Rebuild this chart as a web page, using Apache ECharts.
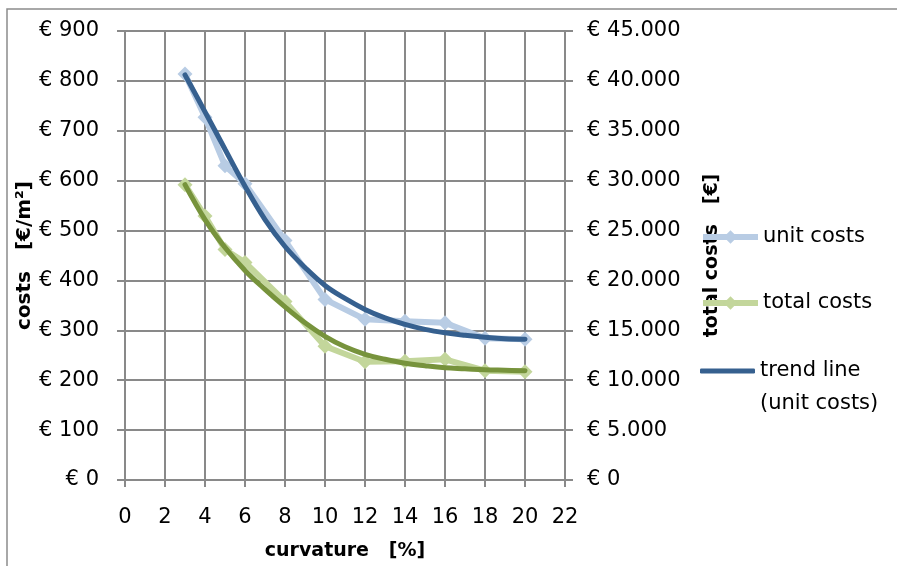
<!DOCTYPE html>
<html>
<head>
<meta charset="utf-8">
<script src="https://cdn.jsdelivr.net/npm/echarts@6/dist/echarts.min.js"></script>
<style>
  html, body { margin: 0; padding: 0; background: #fff; }
  #chart { width: 897px; height: 566px; }
</style>
</head>
<body>
<div id="chart"></div>
<script>
// Measured points: curvature [%] against unit costs [€/m²] and total costs [€]
const curvature = [3, 4, 5, 6, 8, 10, 12, 14, 16, 18, 20];
const unitCosts = [814, 727, 630, 594, 480, 362, 322, 318, 315, 284, 282];
const totalCosts = [29600, 26450, 23100, 21800, 17900, 13400, 11850, 11900, 12100, 10950, 10850];

// Fitted trend curves, sampled at each whole percent
const trendCurvature = [3, 4, 5, 6, 7, 8, 9, 10, 11, 12, 13, 14, 15, 16, 17, 18, 19, 20];
const unitTrend = [812, 738, 663, 589, 522, 468, 426, 390, 364, 342, 325, 312, 302, 295, 290, 286, 283, 282];
const totalTrend = [29600, 26100, 23300, 21000, 19100, 17350, 15750, 14400, 13350, 12600, 12100, 11700, 11450, 11250, 11150, 11050, 11000, 10950];

// Axis tick labels
const xTickLabels = ['0', '2', '4', '6', '8', '10', '12', '14', '16', '18', '20', '22'];
const leftTickLabels = ['€ 0', '€ 100', '€ 200', '€ 300', '€ 400', '€ 500', '€ 600', '€ 700', '€ 800', '€ 900'];
const rightTickLabels = ['€ 0', '€ 5.000', '€ 10.000', '€ 15.000', '€ 20.000', '€ 25.000', '€ 30.000', '€ 35.000', '€ 40.000', '€ 45.000'];

const names = {
  unit: 'unit costs',
  total: 'total costs',
  unitTrend: 'trend line\n(unit costs)',
  totalTrend: 'trend line (total costs)'
};

const FONT = 'DejaVu Sans';
const GRID_COLOR = '#898989';
const LIGHT_BLUE = '#B8CCE4';
const LIGHT_GREEN = '#C3D69B';
const DARK_BLUE = '#36608F';
const DARK_GREEN = '#77933C';
const pair = (xs, ys) => xs.map((x, i) => [x, ys[i]]);

const labelStyle = { color: '#000', fontSize: 21, fontFamily: FONT };
const titleStyle = { color: '#000', fontSize: 19, fontWeight: 'bold', fontFamily: FONT };
const gridLine = { lineStyle: { color: GRID_COLOR, width: 2 } };

const legendBase = {
  orient: 'vertical',
  left: 700,
  padding: 0,
  itemWidth: 55,
  itemHeight: 17,
  itemGap: 5,
  lineStyle: { width: 6 },
  textStyle: { color: '#000', fontSize: 21, fontFamily: FONT, lineHeight: 33 }
};

const chart = echarts.init(document.getElementById('chart'), null, { renderer: 'canvas' });
chart.setOption({
  animation: false,
  backgroundColor: '#fff',
  graphic: [{
    type: 'rect',
    z: -10,
    shape: { x: 7, y: 9, width: 900, height: 600 },
    style: { fill: 'none', stroke: '#8c8c8c', lineWidth: 1.5 }
  }],
  grid: { left: 125, right: 332, top: 31, bottom: 85 },
  legend: [
    Object.assign({}, legendBase, { top: 220.5, data: [names.unit] }),
    Object.assign({}, legendBase, { top: 286.5, data: [names.total] }),
    Object.assign({}, legendBase, {
      top: 321.5,
      itemHeight: 5,
      // leading blank line keeps the first text line level with the icon
      formatter: name => ' \n' + name,
      data: [{
        name: names.unitTrend,
        icon: 'roundRect',
        itemStyle: { color: DARK_BLUE }
      }]
    })
  ],
  xAxis: {
    type: 'value',
    min: 0, max: 22, interval: 2,
    name: 'curvature   [%]',
    nameLocation: 'middle',
    nameGap: 62,
    nameTextStyle: titleStyle,
    axisLine: { show: true, lineStyle: { color: GRID_COLOR, width: 2 } },
    axisTick: { show: true, length: 7, lineStyle: { color: GRID_COLOR, width: 2 } },
    axisLabel: Object.assign({ margin: 27, formatter: v => xTickLabels[Math.round(v / 2)] }, labelStyle),
    splitLine: Object.assign({ show: true }, gridLine)
  },
  yAxis: [{
    type: 'value',
    position: 'left',
    min: 0, max: 900, interval: 100,
    name: 'costs   [€/m²]',
    nameLocation: 'middle',
    nameGap: 81,
    nameTextStyle: Object.assign({}, titleStyle, { fontSize: 20 }),
    axisLine: { show: true, lineStyle: { color: GRID_COLOR, width: 2 } },
    axisTick: { show: true, length: 8, lineStyle: { color: GRID_COLOR, width: 2 } },
    axisLabel: Object.assign({ margin: 26, formatter: v => leftTickLabels[Math.round(v / 100)] }, labelStyle),
    splitLine: Object.assign({ show: true }, gridLine)
  }, {
    type: 'value',
    position: 'right',
    min: 0, max: 45000, interval: 5000,
    name: 'total costs   [€]',
    nameLocation: 'middle',
    nameRotate: 90,
    nameGap: 138,
    nameTextStyle: titleStyle,
    axisLine: { show: true, lineStyle: { color: GRID_COLOR, width: 2 } },
    axisTick: { show: true, length: 8, lineStyle: { color: GRID_COLOR, width: 2 } },
    axisLabel: Object.assign({ margin: 22, formatter: v => rightTickLabels[Math.round(v / 5000)] }, labelStyle),
    splitLine: { show: false }
  }],
  series: [{
    name: names.unit,
    type: 'line',
    yAxisIndex: 0,
    data: pair(curvature, unitCosts),
    symbol: 'diamond',
    symbolSize: 15,
    color: LIGHT_BLUE,
    lineStyle: { width: 6, color: LIGHT_BLUE },
    itemStyle: { color: LIGHT_BLUE },
    z: 2
  }, {
    name: names.total,
    type: 'line',
    yAxisIndex: 1,
    data: pair(curvature, totalCosts),
    symbol: 'diamond',
    symbolSize: 15,
    color: LIGHT_GREEN,
    lineStyle: { width: 6, color: LIGHT_GREEN },
    itemStyle: { color: LIGHT_GREEN },
    z: 2
  }, {
    name: names.unitTrend,
    type: 'line',
    yAxisIndex: 0,
    data: pair(trendCurvature, unitTrend),
    smooth: 0.4,
    showSymbol: false,
    symbol: 'none',
    color: DARK_BLUE,
    lineStyle: { width: 5, color: DARK_BLUE, cap: 'round' },
    z: 3
  }, {
    name: names.totalTrend,
    type: 'line',
    yAxisIndex: 1,
    data: pair(trendCurvature, totalTrend),
    smooth: 0.4,
    showSymbol: false,
    symbol: 'none',
    color: DARK_GREEN,
    lineStyle: { width: 5, color: DARK_GREEN, cap: 'round' },
    z: 3
  }]
});
</script>
</body>
</html>
